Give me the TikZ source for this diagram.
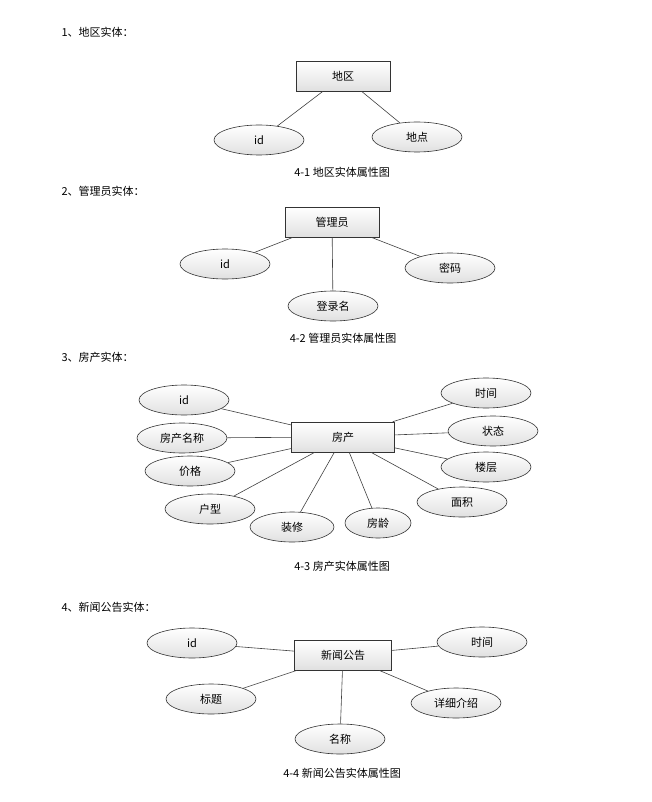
\documentclass[tikz,border=0pt]{standalone}
\usepackage{fontspec}
\setmainfont{Noto Sans CJK SC}
\usetikzlibrary{shapes.geometric}
\begin{document}
\begin{tikzpicture}[x=1pt,y=-1pt,font=\fontsize{11}{13}\selectfont,
 ent/.style={draw=black!80,rectangle,minimum width=94pt,minimum height=30pt,top color=white,bottom color=black!12,line width=0.6pt},
 att/.style={draw=black!80,ellipse,minimum width=90pt,minimum height=30pt,inner sep=0pt,top color=white,bottom color=black!12,line width=0.6pt},
 lnk/.style={draw=black!75,line width=0.6pt},
 hd/.style={anchor=west},
 captxt/.style={}]
\useasboundingbox (0,0) rectangle (652,802);
% 1
\node[hd] (h1) at (58,32) {1、地区实体：};
\node[ent] (e1) at (343,76) {地区};
\node[att] (a11) at (259,140) {id};
\node[att] (a12) at (417,137) {地点};
\draw[lnk] (e1) -- (a11); \draw[lnk] (e1) -- (a12);
\node[captxt] (c1) at (342,172) {4-1 地区实体属性图};
% 2
\node[hd] (h2) at (58,191) {2、管理员实体：};
\node[ent] (e2) at (332,222) {管理员};
\node[att] (a21) at (225,264) {id};
\node[att] (a22) at (450,268) {密码};
\node[att] (a23) at (333,306) {登录名};
\draw[lnk] (e2) -- (a21); \draw[lnk] (e2) -- (a22); \draw[lnk] (e2) -- (a23);
\node[captxt] (c2) at (343,338) {4-2 管理员实体属性图};
% 3
\node[hd] (h3) at (58,357) {3、房产实体：};
\node[ent,minimum width=103pt] (e3) at (343,437) {房产};
\foreach \n/\p/\t/\w in {b1/{(184,400)}/id/90,b2/{(182,438)}/房产名称/90,b3/{(190,471)}/价格/90,b4/{(210,509)}/户型/90,b5/{(292,527)}/装修/84,b6/{(378,523)}/房龄/66,b7/{(462,502)}/面积/90,b8/{(486,467)}/楼层/90,b9/{(493,431)}/状态/90,b10/{(486,393)}/时间/90}{
 \node[att,minimum width=\w pt] (\n) at \p {\t};
 \draw[lnk] (e3) -- (\n);
}
\node[captxt] (c3) at (342,566) {4-3 房产实体属性图};
% 4
\node[hd] (h4) at (58,607) {4、新闻公告实体：};
\node[ent,minimum width=97pt] (e4) at (343,655) {新闻公告};
\node[att] (d1) at (192,643) {id};
\node[att] (d2) at (482,642) {时间};
\node[att] (d3) at (211,699) {标题};
\node[att] (d4) at (456,703) {详细介绍};
\node[att] (d5) at (340,739) {名称};
\foreach \n in {d1,d2,d3,d4,d5}{\draw[lnk] (e4) -- (\n);}
\node[captxt] (c4) at (342,773) {4-4 新闻公告实体属性图};
\end{tikzpicture}
\end{document}
